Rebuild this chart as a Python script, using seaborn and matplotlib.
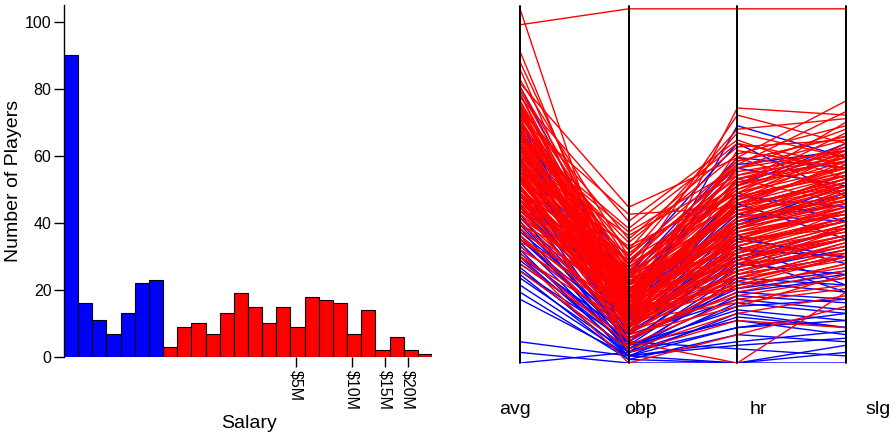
import numpy as np
import pandas as pd
import matplotlib
matplotlib.use("Agg")
import matplotlib.pyplot as plt
import seaborn as sns

sns.set_style("white")
plt.rcParams['font.family'] = ['Liberation Sans', 'DejaVu Sans']
plt.rcParams['text.color'] = 'black'
plt.rcParams['axes.labelcolor'] = 'black'
plt.rcParams['xtick.color'] = 'black'
plt.rcParams['ytick.color'] = 'black'

# histogram of salaries (counts per log-spaced bin), low earners blue, high earners red
low_counts = [90, 16, 11, 7, 13, 22, 23]
high_counts = [3, 9, 10, 7, 13, 19, 15, 10, 15, 9, 18, 17, 16, 7, 14, 2, 6, 2, 1]
salary_lo, salary_hi = 284000, 27000000
salary_ticks = [5e6, 10e6, 15e6, 20e6]
salary_tick_labels = ['$5M', '$10M', '$15M', '$20M']

# parallel coordinates, values scaled 0-100 on each axis
stats = ['avg', 'obp', 'hr', 'slg']
blue_avg = [78, 72, 68, 65, 62, 60, 58, 56, 55, 53, 52, 50, 49, 48, 46, 45, 44, 42, 41, 40,
            39, 38, 37, 36, 35, 34, 33, 32, 31, 30, 29, 28, 27, 26, 25, 24, 22, 20, 18, 6,
            3, 0, 64, 57, 47, 43, 52, 35, 30, 26]
blue_obp = [20, 15, 12, 18, 10, 22, 8, 14, 25, 6, 12, 9, 16, 5, 11, 7, 13, 4, 10, 6,
            8, 3, 12, 5, 7, 4, 9, 2, 6, 3, 5, 7, 2, 4, 1, 3, 2, 1, 2, 2,
            0, 3, 28, 20, 18, 15, 24, 10, 8, 6]
blue_hr = [55, 48, 67, 40, 35, 50, 30, 45, 58, 28, 38, 33, 42, 25, 36, 20, 44, 22, 30, 27,
           18, 24, 32, 15, 21, 19, 26, 14, 23, 17, 12, 20, 10, 16, 8, 13, 6, 0, 0, 5,
           0, 10, 62, 52, 47, 39, 56, 34, 29, 4]
blue_slg = [50, 40, 58, 45, 30, 62, 38, 35, 55, 25, 48, 22, 40, 30, 28, 18, 52, 26, 20, 35,
            15, 22, 30, 12, 25, 17, 32, 10, 20, 14, 8, 24, 12, 18, 6, 10, 9, 3, 5, 7,
            0, 14, 47, 57, 44, 50, 60, 40, 38, 2]

red_avg = [95.5, 100, 88, 85, 83, 80, 79, 78, 76, 75, 74, 73, 72, 71, 70, 69, 68, 67, 66, 65,
           64, 63, 62, 61, 60, 59, 58, 57, 56, 55, 54, 53, 52, 51, 50, 49, 48, 47, 46, 45,
           44, 43, 42, 41, 40, 39, 38, 37, 36, 35, 34, 33, 32, 31, 30, 28, 26, 30, 45, 66,
           58, 62, 55, 68, 50, 47, 60, 64, 53, 70, 57, 49, 42, 65, 73, 76, 44, 39, 54, 61,
           67, 52, 46, 59, 36, 71, 63, 48, 56, 41,
           72, 69, 66, 63, 60, 57, 54, 51, 48, 45, 74, 71, 68, 65, 62, 59, 56, 53, 50, 47,
           70, 67, 64, 61, 58, 55, 52, 49, 46, 43, 77, 73, 69, 66, 62, 58, 54, 51, 48, 44]
red_obp = [100, 8, 14, 20, 12, 30, 44, 25, 18, 40, 22, 10, 35, 16, 28, 42, 20, 32, 13, 26,
           38, 18, 24, 9, 30, 21, 36, 15, 27, 12, 33, 23, 19, 29, 11, 25, 17, 31, 14, 22,
           8, 27, 16, 20, 10, 24, 13, 19, 7, 15, 21, 9, 14, 5, 11, 7, 4, 0, 6, 3,
           18, 22, 20, 26, 16, 12, 14, 17, 9, 23, 28, 21, 18, 34, 29, 13, 24, 17, 6, 32,
           10, 26, 19, 15, 12, 19, 37, 8, 24, 14,
           15, 21, 11, 18, 25, 13, 20, 16, 22, 12, 19, 14, 24, 17, 10, 23, 15, 18, 13, 21,
           27, 12, 16, 20, 14, 19, 11, 17, 23, 15, 22, 17, 13, 25, 18, 10, 16, 21, 12, 19]
red_hr = [100, 45, 60, 50, 72, 65, 58, 70, 55, 63, 47, 52, 61, 40, 56, 44, 58, 50, 36, 54,
          62, 45, 49, 34, 57, 43, 53, 38, 51, 29, 48, 44, 41, 55, 31, 46, 37, 52, 33, 42,
          26, 47, 35, 39, 28, 43, 30, 36, 22, 32, 40, 24, 27, 18, 25, 20, 14, 8, 0, 12,
          30, 36, 33, 42, 24, 21, 27, 31, 19, 38, 45, 39, 34, 59, 48, 41, 50, 44, 23, 66,
          37, 53, 29, 40, 17, 46, 55, 16, 35, 22,
          41, 33, 26, 48, 37, 29, 44, 21, 35, 28, 52, 39, 31, 46, 25, 42, 34, 38, 23, 30,
          49, 27, 36, 43, 32, 40, 24, 45, 38, 29, 57, 44, 35, 51, 26, 33, 47, 39, 31, 28]
red_slg = [100, 50, 55, 68, 70, 58, 74, 62, 66, 52, 60, 45, 63, 50, 71, 57, 48, 65, 42, 59,
           56, 53, 61, 40, 64, 47, 58, 44, 55, 36, 62, 51, 46, 60, 39, 54, 43, 57, 41, 49,
           34, 53, 38, 45, 31, 50, 36, 42, 27, 37, 47, 29, 33, 22, 30, 26, 19, 16, 20, 10,
           35, 44, 40, 52, 32, 28, 38, 43, 24, 49, 56, 46, 41, 67, 55, 51, 58, 52, 31, 69,
           42, 61, 35, 48, 21, 59, 63, 25, 45, 30,
           54, 41, 33, 57, 46, 36, 52, 28, 44, 39, 60, 47, 37, 55, 34, 50, 43, 45, 30, 38,
           58, 35, 42, 53, 40, 48, 32, 56, 49, 36, 64, 51, 43, 59, 33, 41, 54, 47, 39, 35]

fig = plt.figure(figsize=(8.96, 4.37), dpi=100)

# ---- left: salary histogram ----
ax1 = fig.add_axes([64 / 896, 1 - 357 / 437, 368 / 896, 352 / 437])
lo, hi = np.log10(salary_lo), np.log10(salary_hi)
nbins = len(low_counts) + len(high_counts)
w = (hi - lo) / nbins
centers = 10 ** (lo + (np.arange(nbins) + 0.5) * w)
hist_df = pd.DataFrame({
    'salary': centers,
    'count': low_counts + high_counts,
    'group': ['low'] * len(low_counts) + ['high'] * len(high_counts),
})
sns.histplot(data=hist_df, x='salary', weights='count', hue='group', bins=nbins,
             binrange=(lo, hi), log_scale=True, palette={'low': 'blue', 'high': 'red'},
             alpha=1, edgecolor='black', linewidth=0.8, legend=False, ax=ax1)
ax1.set_xlim(salary_lo, salary_hi)
ax1.set_ylim(0, 105)
ax1.set_yticks([0, 20, 40, 60, 80, 100])
ax1.set_xticks(salary_ticks)
ax1.set_xticklabels(salary_tick_labels, rotation=-90)
ax1.xaxis.set_minor_locator(matplotlib.ticker.NullLocator())
ax1.tick_params(axis='both', labelsize=11.5, length=7, width=1, color='black',
                direction='out', bottom=True, left=True, pad=2)
for s in ['top', 'right', 'bottom']:
    ax1.spines[s].set_visible(False)
ax1.spines['left'].set_color('black')
ax1.spines['left'].set_linewidth(1)
ax1.set_ylabel('Number of Players', fontsize=14)
ax1.yaxis.set_label_coords((22 - 64) / 368, 0.5)
ax1.set_xlabel('')
fig.text(249 / 896, 1 - 423 / 437, 'Salary', fontsize=14, ha='center', va='center')

# ---- right: parallel coordinates ----
ax2 = fig.add_axes([520 / 896, 1 - 363 / 437, 326 / 896, 357 / 437])
rows = []
blue_cols = [blue_avg, blue_obp, blue_hr, blue_slg]
red_cols = [red_avg, red_obp, red_hr, red_slg]
for i in range(len(blue_avg)):
    for j, st in enumerate(stats):
        rows.append({'player': 'b%d' % i, 'stat': j, 'value': blue_cols[j][i], 'group': 'low'})
for i in range(len(red_avg)):
    for j, st in enumerate(stats):
        rows.append({'player': 'r%d' % i, 'stat': j, 'value': red_cols[j][i], 'group': 'high'})
pc_df = pd.DataFrame(rows)
sns.lineplot(data=pc_df, x='stat', y='value', units='player', estimator=None,
             hue='group', hue_order=['low', 'high'],
             palette={'low': 'blue', 'high': 'red'}, linewidth=1.0, legend=False,
             sort=False, ax=ax2)
ax2.set_xlim(0, 3)
ax2.set_ylim(0, 100.8)
for j in range(len(stats)):
    ax2.axvline(j, color='black', linewidth=1.4, clip_on=False, zorder=5)
for s in ax2.spines.values():
    s.set_visible(False)
ax2.set_xticks([])
ax2.set_yticks([])
ax2.set_xlabel('')
ax2.set_ylabel('')
for x_px, st in zip([515, 640, 758, 878], stats):
    fig.text(x_px / 896, 1 - 410 / 437, st, fontsize=14, ha='center', va='center')

plt.savefig('out.png', dpi=100)
